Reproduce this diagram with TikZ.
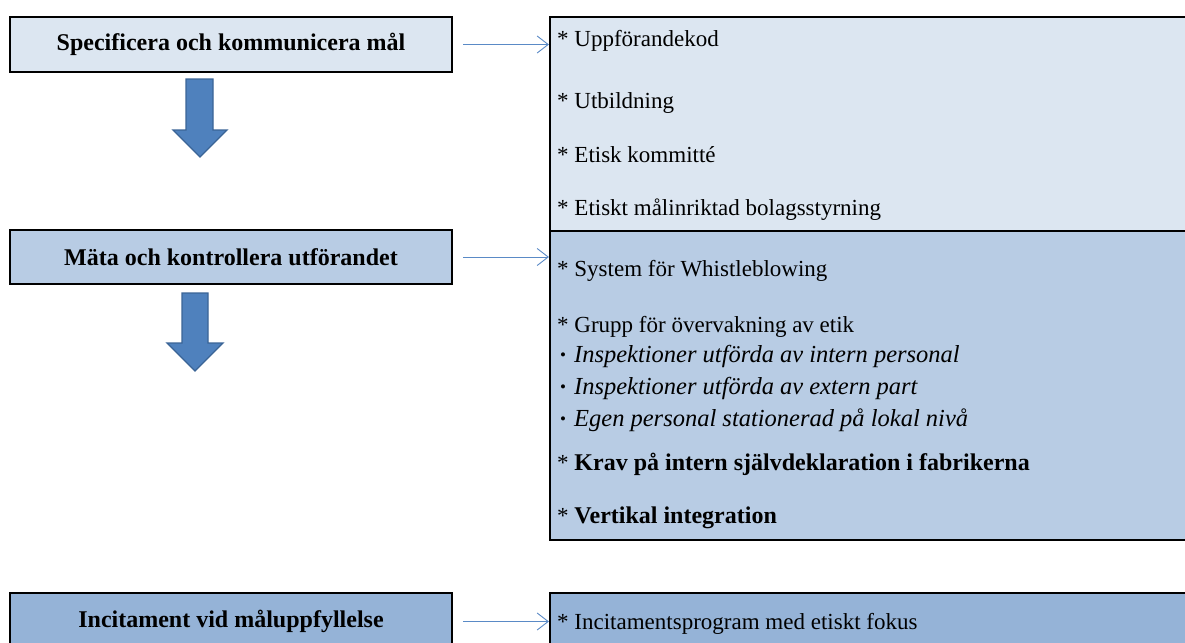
\documentclass[tikz,border=0pt]{standalone}
\usepackage{fontspec}
\setmainfont{Liberation Serif}
\usetikzlibrary{arrows.meta}

\definecolor{paleblue}{HTML}{DCE6F1}
\definecolor{midblue}{HTML}{B8CCE4}
\definecolor{deepblue}{HTML}{95B3D7}
\definecolor{arrowblue}{HTML}{4F81BD}
\definecolor{arrowedge}{HTML}{3A6496}
\definecolor{linkblue}{HTML}{5A8AC6}

\newcommand{\regsize}{\fontsize{23}{27}\selectfont}
\newcommand{\boldsize}{\fontsize{24}{28}\selectfont\bfseries}
\newcommand{\itsize}{\fontsize{24.5}{28}\selectfont\itshape}
\newcommand{\subdot}{\raisebox{1.5pt}{\fontsize{17}{17}\selectfont\textbullet}\hspace{8pt}}

\tikzset{
  stagebox/.style={draw=black, line width=2.2pt, minimum width=442pt, inner sep=0pt,
    font=\boldsize},
  listbox/.style={draw=black, line width=2.2pt, minimum width=645pt, inner sep=0pt},
  item/.style={anchor=mid west, inner sep=0pt, font=\regsize},
  flowarrow/.style={fill=arrowblue, draw=arrowedge, line width=1.4pt, line join=miter},
  link/.style={draw=linkblue, line width=0.9pt,
    -{Straight Barb[length=11pt,width=17pt,line width=0.9pt]}}
}

\begin{document}
\begin{tikzpicture}[x=1pt,y=-1pt]
\useasboundingbox (0,0) rectangle (1185,642);
\clip (0,0) rectangle (1185,642);

% stages on the left
\node[stagebox, fill=paleblue, minimum height=55pt] (spec) at (231,44.5) {Specificera och kommunicera mål};
\node[stagebox, fill=midblue, minimum height=54pt] (meas) at (231,257) {Mäta och kontrollera utförandet};
\node[stagebox, fill=deepblue, minimum height=57pt] (incl) at (231,621.5) {Incitament vid måluppfyllelse};

% measures on the right
\node[listbox, fill=paleblue, minimum height=214pt] (goals) at (872.5,124) {};
\node[listbox, fill=midblue, minimum height=309pt] (ctrl) at (872.5,385.5) {};
\node[listbox, fill=deepblue, minimum height=67pt] (inc) at (872.5,626.5) {};

% block arrows between the stages
\draw[flowarrow] (186,79) -- (213,79) -- (213,130) -- (227,130) -- (200,157)
  -- (173,130) -- (186,130) -- cycle;
\draw[flowarrow] (182,293) -- (208,293) -- (208,343) -- (223,343) -- (195,371)
  -- (167,343) -- (182,343) -- cycle;

% links from stages to measures
\draw[link] ([xshift=10pt]spec.east) -- (spec.east -| goals.west);
\draw[link] ([xshift=10pt]meas.east) -- (meas.east -| ctrl.west);
\draw[link] ([xshift=10pt]incl.east) -- (incl.east -| inc.west);

% items
\node[item] (g1) at (557,44) {* Uppförandekod};
\node[item] (g2) at (557,106) {* Utbildning};
\node[item] (g3) at (557,160) {* Etisk kommitté};
\node[item] (g4) at (557,213) {* Etiskt målinriktad bolagsstyrning};

\node[item] (c1) at (557,274) {* System för Whistleblowing};
\node[item] (c2) at (557,330) {* Grupp för övervakning av etik};
\node[item] (c3) at (560,360) {\subdot{\itsize Inspektioner utförda av intern personal}};
\node[item] (c4) at (560,392) {\subdot{\itsize Inspektioner utförda av extern part}};
\node[item] (c5) at (560,424) {\subdot{\itsize Egen personal stationerad på lokal nivå}};
\node[item] (c6) at (557,468) {* {\boldsize Krav på intern självdeklaration i fabrikerna}};
\node[item] (c7) at (557,521) {* {\boldsize Vertikal integration}};

\node[item] (i1) at (557,627) {* Incitamentsprogram med etiskt fokus};
\end{tikzpicture}
\end{document}
